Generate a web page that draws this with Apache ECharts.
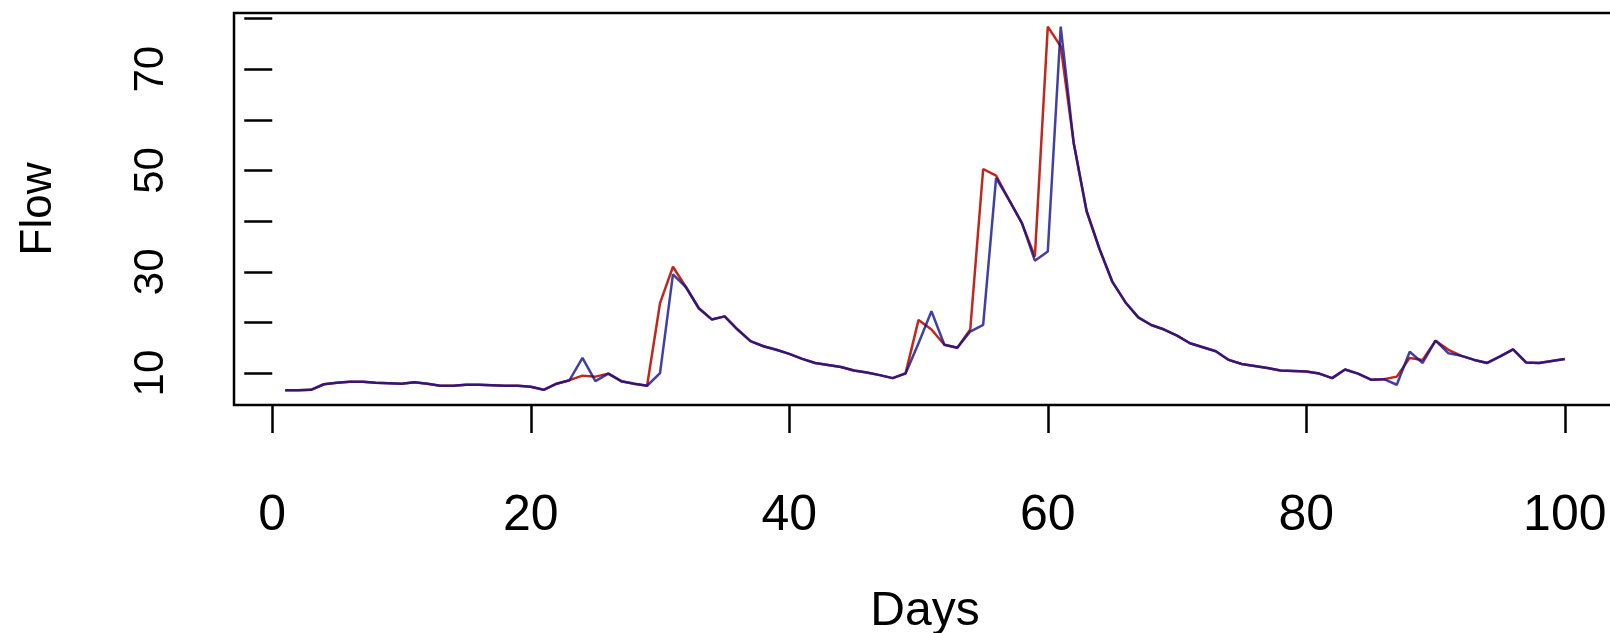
<!DOCTYPE html>
<html>
<head>
<meta charset="utf-8">
<script src="https://cdn.jsdelivr.net/npm/echarts@6/dist/echarts.min.js"></script>
<style>
html,body{margin:0;padding:0;background:#fff;}
#chart{width:1610px;height:633px;}
</style>
</head>
<body>
<div id="chart"></div>
<script>
// observed flow (blue) and simulated flow (red), days 1..100
var observed=[6.6,6.6,6.7,7.8,8.1,8.3,8.3,8.1,8.0,7.9,
	8.2,7.9,7.5,7.5,7.7,7.7,7.6,7.5,7.5,7.3,
	6.7,7.9,8.6,13.0,8.4,9.9,8.4,7.9,7.5,10.0,
	29.5,27.0,22.8,20.6,21.2,18.6,16.3,15.3,14.6,13.8,
	12.8,12.0,11.6,11.2,10.5,10.1,9.6,9.0,9.9,15.9,
	22.2,15.6,15.0,18.2,19.5,48.5,44.2,39.6,32.2,34.0,
	78.4,55.5,42.0,34.5,28.0,24.0,21.0,19.5,18.6,17.4,
	15.9,15.1,14.3,12.6,11.8,11.4,11.0,10.5,10.4,10.3,
	9.9,9.0,10.7,9.9,8.7,8.8,7.7,14.2,12.0,16.4,
	13.9,13.4,12.6,12.0,13.3,14.7,12.1,12.0,12.4,12.8]
var simulated=[6.6,6.6,6.7,7.8,8.1,8.3,8.3,8.1,8.0,7.9,
	8.2,7.9,7.5,7.5,7.7,7.7,7.6,7.5,7.5,7.3,
	6.7,7.9,8.6,9.5,9.3,9.9,8.4,7.9,7.5,23.8,
	31.0,27.0,22.8,20.6,21.2,18.6,16.3,15.3,14.6,13.8,
	12.8,12.0,11.6,11.2,10.5,10.1,9.6,9.0,10.0,20.5,
	18.6,15.6,15.0,18.6,50.3,49.0,44.2,39.6,33.0,78.4,
	74.5,55.5,42.0,34.5,28.0,24.0,21.0,19.5,18.6,17.4,
	15.9,15.1,14.3,12.6,11.8,11.4,11.0,10.5,10.4,10.3,
	9.9,9.0,10.7,9.9,8.7,8.8,9.3,13.0,12.6,16.4,
	14.6,13.4,12.6,12.0,13.3,14.7,12.1,12.0,12.4,12.8]
var xTicks=[0,20,40,60,80,100]
var yTicks=[10,20,30,40,50,60,70,80]
var yLabels=[10,30,50,70]

var obs=[],sim=[]
for(var i=0;i<observed.length;i++){
	obs.push([i+1,observed[i]])
	sim.push([i+1,simulated[i]])
}

var mychart=echarts.init(document.getElementById('chart'))
var font='Liberation Sans'
var option={
	animation:false,
	grid:{
		left:234,top:13,width:1382,bottom:228,
		outerBoundsMode:'none',containLabel:false,
		show:true,borderColor:'#000',borderWidth:2.5,backgroundColor:'#fff'
	},
	xAxis:{
		type:'value',min:-2.96,max:103.96,
		name:'Days',nameLocation:'middle',nameGap:183,
		nameTextStyle:{fontFamily:font,fontSize:48,color:'#000'},
		axisLine:{show:false},
		axisTick:{show:true,inside:false,length:28,customValues:xTicks,lineStyle:{color:'#000',width:2.5}},
		axisLabel:{customValues:xTicks,margin:86,fontFamily:font,fontSize:50,color:'#000'},
		splitLine:{show:false}
	},
	yAxis:{
		type:'value',min:3.7,max:81.1,
		name:'Flow',nameLocation:'middle',nameRotate:90,nameGap:173,
		nameTextStyle:{fontFamily:font,fontSize:44,color:'#000'},
		axisLine:{show:false},
		axisTick:{show:true,inside:false,length:28,customValues:yTicks,lineStyle:{color:'#000',width:2.5}},
		axisLabel:{customValues:yLabels,rotate:90,margin:62,fontFamily:font,fontSize:42,color:'#000'},
		splitLine:{show:false}
	},
	series:[{
		name:'simulated',
		type:'line',
		data:sim,
		showSymbol:false,
		lineStyle:{color:'#c0281e',width:2.5}
	},{
		name:'observed',
		type:'line',
		data:obs,
		showSymbol:false,
		lineStyle:{color:'#101090',width:2.5,opacity:0.8}
	}]
}
mychart.setOption(option)
</script>
</body>
</html>
